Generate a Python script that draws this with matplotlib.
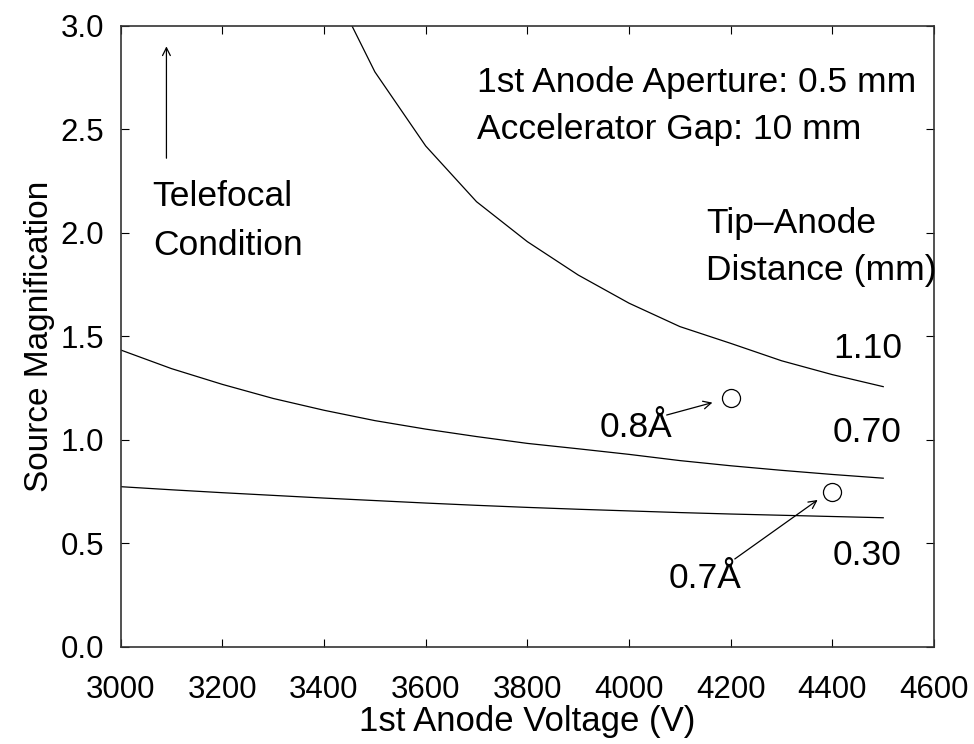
import matplotlib
matplotlib.use("Agg")
import matplotlib.pyplot as plt

plt.rcParams['font.family'] = ['Liberation Sans', 'DejaVu Sans']

# voltages (V) at which the magnification was computed
voltage = [3000, 3100, 3200, 3300, 3400, 3500, 3600, 3700, 3800,
           3900, 4000, 4100, 4200, 4300, 4400, 4500]

# source magnification for each tip-anode distance (mm)
mag_110 = [None, None, None, None, 3.27, 2.777, 2.419, 2.150, 1.957,
           1.796, 1.660, 1.547, 1.466, 1.382, 1.315, 1.257]
mag_070 = [1.434, 1.344, 1.268, 1.200, 1.143, 1.093, 1.052, 1.016, 0.983,
           0.957, 0.930, 0.900, 0.875, 0.853, 0.833, 0.815]
mag_030 = [0.774, 0.759, 0.745, 0.732, 0.719, 0.707, 0.695, 0.684, 0.674,
           0.665, 0.657, 0.649, 0.642, 0.636, 0.630, 0.624]

# operating points
point_v = [4200, 4400]
point_m = [1.2, 0.75]
point_labels = ['0.8Å', '0.7Å']

fig = plt.figure(figsize=(9.74, 7.44), dpi=100)
ax = fig.add_axes([0.1239, 0.1304, 0.959 - 0.1239, 0.9655 - 0.1304])

v110 = [v for v, m in zip(voltage, mag_110) if m is not None]
m110 = [m for m in mag_110 if m is not None]
ax.plot(v110, m110, color='black', lw=0.9)
ax.plot(voltage, mag_070, color='black', lw=0.9)
ax.plot(voltage, mag_030, color='black', lw=0.9)

ax.plot(point_v, point_m, 'o', ms=13, mfc='white', mec='black', mew=0.9)

ax.set_xlim(3000, 4600)
ax.set_ylim(0, 3.0)
ax.set_xticks(range(3000, 4601, 200))
ax.set_yticks([0, 0.5, 1.0, 1.5, 2.0, 2.5, 3.0])
ax.set_yticklabels(['0.0', '0.5', '1.0', '1.5', '2.0', '2.5', '3.0'])
ax.tick_params(direction='in', length=6, width=0.8, labelsize=22.5,
               top=True, right=True)
ax.tick_params(axis='x', pad=20)
ax.tick_params(axis='y', pad=12)
for s in ax.spines.values():
    s.set_linewidth(1.2)
    s.set_color('#333333')

ax.set_xlabel('1st Anode Voltage (V)', fontsize=25, labelpad=0)
ax.set_ylabel('Source Magnification', fontsize=24, labelpad=4)

fs = 25.5
ax.text(3700, 2.681, '1st Anode Aperture: 0.5 mm', fontsize=fs)
ax.text(3700, 2.451, 'Accelerator Gap: 10 mm', fontsize=fs)
ax.text(4152, 1.998, 'Tip–Anode', fontsize=fs)
ax.text(4152, 1.772, 'Distance (mm)', fontsize=fs)
ax.text(3062, 2.131, 'Telefocal', fontsize=fs)
ax.text(3064, 1.893, 'Condition', fontsize=fs)
ax.annotate('', xy=(3090, 2.90), xytext=(3090, 2.36),
            arrowprops=dict(arrowstyle='->', lw=0.9, color='black',
                            mutation_scale=14, shrinkA=0, shrinkB=0))

ax.text(4401, 1.394, '1.10', fontsize=fs)
ax.text(4401, 0.991, '0.70', fontsize=fs)
ax.text(4401, 0.396, '0.30', fontsize=fs)

ax.text(3942, 1.012, point_labels[0], fontsize=fs)
ax.annotate('', xy=(4164, 1.180), xytext=(4074, 1.120),
            arrowprops=dict(arrowstyle='->', lw=0.9, color='black',
                            mutation_scale=14, shrinkA=0, shrinkB=0))
ax.text(4077, 0.283, point_labels[1], fontsize=fs)
ax.annotate('', xy=(4371, 0.710), xytext=(4208, 0.425),
            arrowprops=dict(arrowstyle='->', lw=0.9, color='black',
                            mutation_scale=14, shrinkA=0, shrinkB=0))

fig.savefig('out.png', dpi=100)
